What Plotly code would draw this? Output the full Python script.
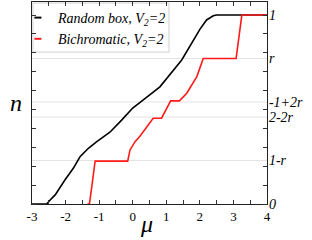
import plotly.graph_objects as go

r = 0.77

black_x = [-3, -2.56, -2.46, -2.31, -2.02, -1.77, -1.57, -1.32, -1.07, -0.68, -0.33, 0.0, 0.22, 0.81, 1.46, 1.80, 2.0, 2.2, 2.4, 2.5, 4]
black_y = [0, 0, 0.021, 0.048, 0.127, 0.189, 0.25, 0.295, 0.33, 0.38, 0.444, 0.508, 0.538, 0.62, 0.762, 0.868, 0.924, 0.974, 0.996, 1.0, 1.0]

red_x = [-1.35, -1.29, -1.22, -1.12, -0.15, -0.08, 0.07, 0.22, 0.61, 0.86, 1.13, 1.39, 1.61, 1.91, 2.10, 3.08, 3.25, 4]
red_y = [0, 0, 0.09, 0.227, 0.227, 0.286, 0.33, 0.36, 0.454, 0.454, 0.546, 0.546, 0.586, 0.674, 0.77, 0.77, 1.0, 1.0]

ytick_vals = [0, 1 - r, 2 - 2 * r, -1 + 2 * r, r, 1]
ytick_text = ["0", "1-r", "2-2r", "-1+2r", "r", "1"]
grid_vals = [1 - r, 2 - 2 * r, -1 + 2 * r, r]
xtick_vals = [-3, -2, -1, 0, 1, 2, 3, 4]
xtick_text = ["-3", "-2", "-1", "0", "1", "2", "3", "4"]

serif = "Liberation Serif, Times New Roman, serif"

fig = go.Figure()
fig.add_trace(go.Scatter(x=black_x, y=black_y, mode="lines",
                         line=dict(color="black", width=1.6), showlegend=False))
fig.add_trace(go.Scatter(x=red_x, y=red_y, mode="lines",
                         line=dict(color="#ff1a1a", width=1.6), showlegend=False))
fig.add_trace(go.Scatter(x=[None], y=[None], mode="markers",
                         marker=dict(symbol="line-ew-open", size=5, color="black", line=dict(color="black", width=2)),
                         name="<i>Random box, V<sub>2</sub>=2</i>"))
fig.add_trace(go.Scatter(x=[None], y=[None], mode="markers",
                         marker=dict(symbol="line-ew-open", size=5, color="#ff1a1a", line=dict(color="#ff1a1a", width=2)),
                         name="<i>Bichromatic, V<sub>2</sub>=2</i>"))

shapes = []
for v in grid_vals:
    shapes.append(dict(type="line", xref="paper", x0=0, x1=1, yref="y", y0=v, y1=v,
                       line=dict(color="#e3e3e3", width=1), layer="below"))
shapes.append(dict(type="rect", xref="paper", yref="paper", x0=0.004, x1=0.583, y0=0.752, y1=0.995,
                   fillcolor="white", line=dict(color="#d0d0d0", width=1), layer="below"))

fig.update_layout(
    width=312, height=240,
    margin=dict(l=32, r=45, t=2, b=36, autoexpand=False),
    paper_bgcolor="white", plot_bgcolor="white",
    font=dict(family=serif, color="black", size=13),
    shapes=shapes,
    legend=dict(x=-0.06, y=1.0, xanchor="left", yanchor="top",
                bgcolor="rgba(0,0,0,0)", borderwidth=0,
                font=dict(family=serif, size=14, color="black"),
                tracegroupgap=0),
    annotations=[
        dict(text="<i>n</i>", xref="paper", yref="paper", x=-0.102, y=0.5,
             showarrow=False, font=dict(family=serif, size=24, color="black")),
        dict(text="<i>μ</i>", xref="paper", yref="paper", x=0.487, y=-0.1,
             showarrow=False, yanchor="middle", font=dict(family=serif, size=24, color="black")),
    ],
)
fig.update_xaxes(range=[-3, 4], tickmode="array", tickvals=xtick_vals, ticktext=xtick_text,
                 ticks="inside", ticklen=4, tickcolor="#333", showgrid=False, zeroline=False,
                 showline=True, linecolor="#222", linewidth=1.2, mirror="allticks",
                 tickfont=dict(family=serif, size=13, color="black"),
                 minor=dict(tickmode="linear", tick0=-3, dtick=0.5, ticks="inside", ticklen=4, tickcolor="#333"))
fig.update_yaxes(range=[0, 1.069], side="right", tickmode="array", tickvals=ytick_vals, ticktext=["<i>%s</i>" % t for t in ytick_text],
                 ticks="", showgrid=False, zeroline=False, ticklabelstandoff=-2,
                 showline=True, linecolor="#222", linewidth=1.2, mirror="allticks",
                 tickfont=dict(family=serif, size=14, color="black"),
                 minor=dict(tickmode="linear", tick0=0, dtick=0.1, ticks="inside", ticklen=4, tickcolor="#333"))

fig.write_html("out.html", config={"displayModeBar": False},
               post_script="document.body.style.margin='0';document.body.style.overflow='hidden';")
